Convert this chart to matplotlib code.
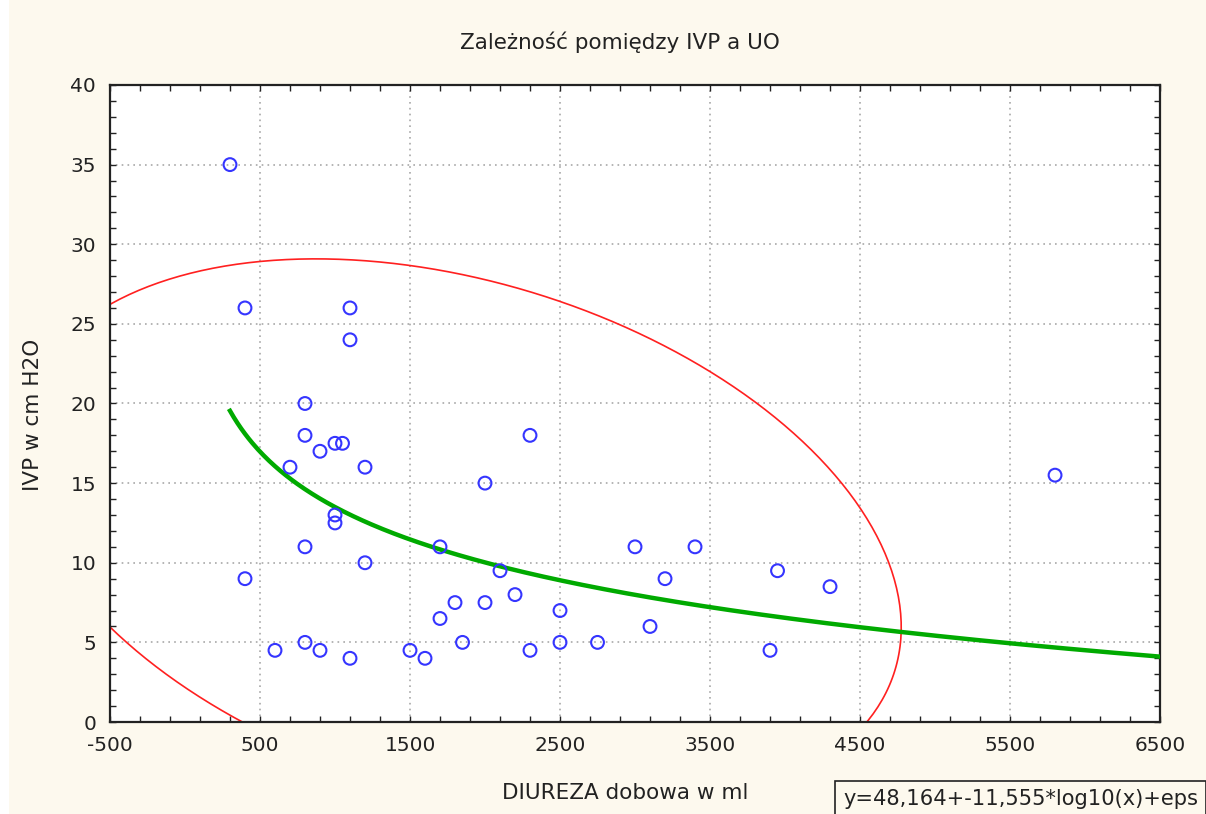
import numpy as np
import matplotlib
matplotlib.use("Agg")
import matplotlib.pyplot as plt
from matplotlib.ticker import MultipleLocator
from matplotlib.patches import Rectangle

plt.rcParams['font.family'] = ['DejaVu Sans']
plt.rcParams['axes.unicode_minus'] = False

# Data: daily diuresis (ml) vs IVP (cm H2O)
diureza = [300, 400, 1100, 1100, 800, 800, 1000, 1050, 900, 700, 1200,
           1000, 1000, 800, 1200, 400, 600, 800, 900, 1100, 1500, 1600,
           1700, 1700, 1800, 1850, 2000, 2000, 2100, 2200, 2300, 2300,
           2500, 2500, 2750, 3000, 3100, 3200, 3400, 3900, 3950, 4300, 5800]
ivp = [35, 26, 26, 24, 20, 18, 17.5, 17.5, 17, 16, 16,
       13, 12.5, 11, 10, 9, 4.5, 5, 4.5, 4, 4.5, 4,
       11, 6.5, 7.5, 5, 15, 7.5, 9.5, 8, 18, 4.5,
       7, 5, 5, 11, 6, 9, 11, 4.5, 9.5, 8.5, 15.5]

# Fitted model y = a + b*log10(x)
fit_a = 48.164
fit_b = -11.555
fit_x_range = [300, 6500]
conf_level_chi2 = 5.991  # 95% chi-square, 2 df

title = "Zależność pomiędzy IVP a UO"
xlabel = "DIUREZA dobowa w ml"
ylabel = "IVP w cm H2O"
equation = "y=48,164+-11,555*log10(x)+eps"

TXT = '#222222'
fig = plt.figure(figsize=(12.06, 8.14), dpi=100)
fig.patch.set_facecolor('#fdf9ee')
fig.patches.append(Rectangle((0, 0), 9 / 1206, 1, transform=fig.transFigure,
                             facecolor='white', edgecolor='none', zorder=-1))
ax = fig.add_axes([0.0912, 0.1130, 0.8707, 0.7826])
ax.set_facecolor('white')

# confidence ellipse from data
X = np.array(diureza, float)
Y = np.array(ivp, float)
mx, my = X.mean(), Y.mean()
cov = np.cov(X, Y)
vals, vecs = np.linalg.eigh(cov)
t = np.linspace(0, 2 * np.pi, 400)
circ = np.vstack([np.cos(t), np.sin(t)])
pts = vecs @ (np.sqrt(vals * conf_level_chi2)[:, None] * circ)
ax.plot(pts[0] + mx, pts[1] + my, color='#ff2020', lw=1.2, zorder=2)

# fitted curve
xf = np.linspace(fit_x_range[0], fit_x_range[1], 500)
ax.plot(xf, fit_a + fit_b * np.log10(xf), color='#00aa00', lw=3.2, zorder=3)

ax.scatter(diureza, ivp, s=85, facecolors='none', edgecolors='#3535ff',
           linewidths=1.5, zorder=4)

ax.set_xlim(-500, 6500)
ax.set_ylim(0, 40)
ax.xaxis.set_major_locator(MultipleLocator(1000, offset=500))
ax.xaxis.set_minor_locator(MultipleLocator(200, offset=100))
ax.yaxis.set_major_locator(MultipleLocator(5))
ax.yaxis.set_minor_locator(MultipleLocator(1))
ax.tick_params(which='both', direction='in', top=True, right=True,
               length=4, width=1, labelsize=14.5, colors=TXT)
ax.tick_params(axis='x', pad=10)
ax.tick_params(axis='y', pad=10)
ax.grid(True, which='major', linestyle=(0, (1, 2.5)), color='#a8a8a8', lw=1.2)
for s in ax.spines.values():
    s.set_linewidth(1.6)
    s.set_color(TXT)

fig.text(620 / 1206, 1 - 42 / 814, title, fontsize=15.5, color=TXT,
         ha='center', va='center')
ax.set_xlabel(xlabel, fontsize=15.5, color=TXT, va='center')
ax.xaxis.set_label_coords(0.4905, -0.1115)
ax.set_ylabel(ylabel, fontsize=15.5, color=TXT, va='center')
ax.yaxis.set_label_coords(-0.0733, 0.482)

fig.text(843 / 1206, 1 - 799 / 814, equation, fontsize=15.1, color=TXT,
         va='center', ha='left',
         bbox=dict(boxstyle='square,pad=0.4', facecolor='#fdf9ee',
                   edgecolor=TXT, lw=1.2))

fig.savefig('out.png', dpi=100, facecolor=fig.get_facecolor())
